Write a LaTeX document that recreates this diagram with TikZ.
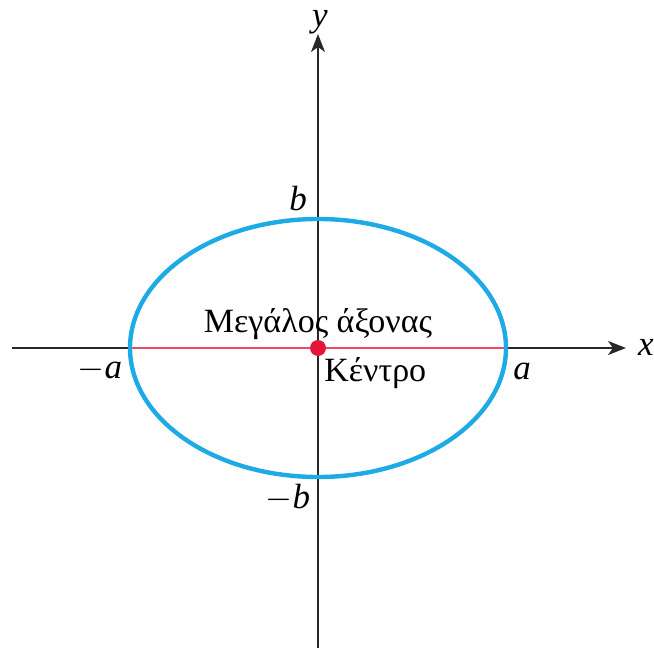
\documentclass[tikz,border=0pt]{standalone}
\usepackage{fontspec}
\setmainfont{Liberation Serif}
\usetikzlibrary{arrows.meta}
\definecolor{ellblue}{RGB}{30,170,228}
\definecolor{dotred}{RGB}{228,22,60}
\definecolor{linered}{RGB}{236,72,104}
\definecolor{axisgray}{RGB}{40,40,40}
\tikzset{
  axis/.style={draw=axisgray, line width=0.75pt, -{Stealth[length=9pt,width=7pt,inset=2.5pt]}},
  lbl/.style={font=\fontsize{17}{19}\selectfont, inner sep=0pt},
  mathlbl/.style={font=\fontsize{17.5}{19}\selectfont\itshape, inner sep=0pt},
}
\begin{document}
\begin{tikzpicture}[x=0.5pt,y=-0.5pt]
\useasboundingbox (0,0) rectangle (654,653);
\coordinate (xs) at (12,348);
\coordinate (xe) at (626,348);
\coordinate (ys) at (318,648);
\coordinate (ye) at (318,34);
\coordinate (O) at (318,348);
\coordinate (L) at (130,348);
\coordinate (R) at (506,348);
\draw[axis] (xs) -- (xe);
\draw[axis] (ys) -- (ye);
\draw[linered, line width=0.7pt] (L) -- (R);
\draw[ellblue, line width=2.2pt] (O) ellipse [x radius=188, y radius=129];
\fill[dotred] (O) circle [radius=8];
\node[mathlbl] (ylab) at (320,22) {y};
\node[mathlbl] (xlab) at (646,347) {x};
\node[mathlbl] (blab) at (298,199) {b};
\node[mathlbl] (mblab) at (288,498) {$-$b};
\node[mathlbl] (malab) at (100,370) {$-$a};
\node[mathlbl] (alab) at (522,371) {a};
\node[lbl] (major) at (318,324) {Μεγάλος άξονας};
\node[lbl, anchor=west] (centre) at (324,373) {Κέντρο};
\end{tikzpicture}
\end{document}
